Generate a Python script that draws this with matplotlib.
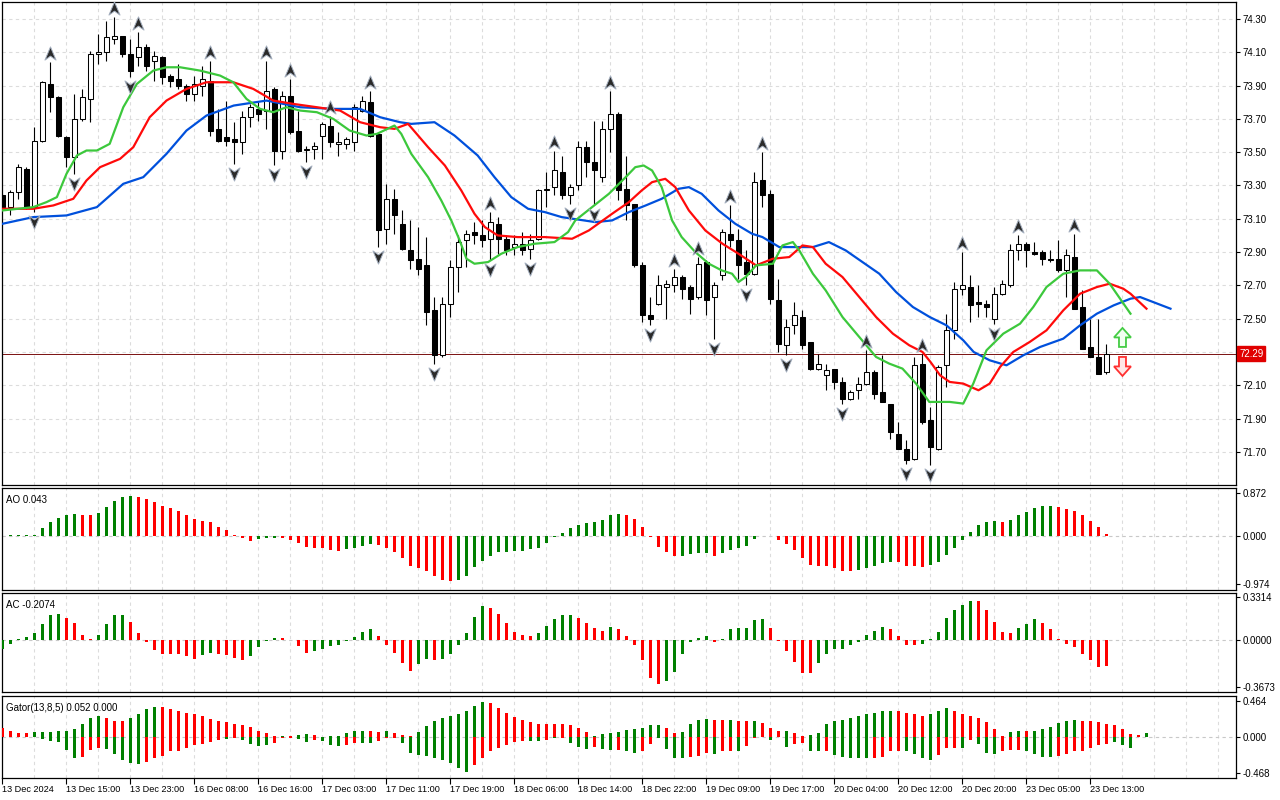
import matplotlib
matplotlib.use("Agg")
import matplotlib.pyplot as plt
import matplotlib.transforms as mtransforms
from matplotlib.path import Path
from matplotlib.patches import Polygon
import numpy as np

plt.rcParams['font.family'] = ['Liberation Sans', 'DejaVu Sans']

# ---- H1 candles ----
opens = [73.24, 73.17, 73.26, 73.40, 73.17, 73.57, 73.91, 73.83, 73.59, 73.47,
         73.70, 73.82, 74.09, 74.10, 74.18, 74.20, 74.09, 74.07, 74.13, 74.05,
         74.07, 73.96, 73.94, 73.90, 73.85, 73.90, 73.93, 73.64, 73.59, 73.58,
         73.56, 73.71, 73.76, 73.75, 73.88, 73.51, 73.84, 73.63, 73.515, 73.52,
         73.60, 73.66, 73.55, 73.55, 73.56, 73.75, 73.80, 73.61, 73.04, 73.22,
         73.07, 72.91, 72.86, 72.82, 72.55, 72.28, 72.59, 72.81, 72.97, 73.02,
         73.00, 72.98, 73.07, 72.98, 72.93, 72.95, 72.92, 72.98, 73.27, 73.29,
         73.38, 73.24, 73.30, 73.53, 73.44, 73.35, 73.64, 73.73, 73.28, 73.19,
         72.82, 72.52, 72.59, 72.69, 72.70, 72.75, 72.69, 72.63, 72.84, 72.63,
         72.76, 73.01, 72.97, 72.84, 72.77, 73.33, 73.25, 72.61, 72.34, 72.46,
         72.51, 72.36, 72.20, 72.16, 72.20, 72.12, 72.02, 72.07, 72.11, 72.18,
         72.06, 71.99, 71.81, 71.72, 71.66, 72.23, 71.89, 71.72, 72.22, 72.43,
         72.68, 72.69, 72.60, 72.59, 72.50, 72.65, 72.70, 72.91, 72.95, 72.90,
         72.90, 72.86, 72.86, 72.79, 72.87, 72.57, 72.33, 72.27, 72.18]
highs = [73.25, 73.27, 73.43, 73.41, 73.65, 73.93, 74.04, 73.84, 73.60, 73.85,
         73.88, 74.11, 74.21, 74.29, 74.31, 74.20, 74.18, 74.22, 74.15, 74.11,
         74.08, 73.97, 74.03, 73.91, 73.96, 74.02, 74.05, 73.76, 73.81, 73.68,
         73.75, 73.79, 73.80, 74.05, 73.89, 73.87, 73.94, 73.75, 73.54, 73.56,
         73.68, 73.72, 73.62, 73.59, 73.79, 73.84, 73.87, 73.62, 73.31, 73.28,
         73.15, 73.09, 73.05, 72.99, 72.63, 72.63, 72.85, 73.00, 73.03, 73.08,
         73.09, 73.14, 73.11, 73.00, 73.00, 73.02, 73.01, 73.28, 73.38, 73.51,
         73.48, 73.31, 73.57, 73.57, 73.69, 73.69, 73.87, 73.74, 73.48, 73.19,
         72.84, 72.63, 72.76, 72.73, 72.80, 72.76, 72.70, 72.87, 72.85, 72.72,
         73.04, 73.18, 73.04, 72.91, 73.38, 73.50, 73.27, 72.74, 72.50, 72.60,
         72.55, 72.36, 72.29, 72.23, 72.20, 72.15, 72.07, 72.15, 72.31, 72.19,
         72.28, 71.99, 71.88, 71.77, 72.27, 72.29, 71.97, 72.22, 72.53, 72.72,
         72.90, 72.76, 72.70, 72.61, 72.69, 72.73, 72.95, 73.00, 72.96, 72.96,
         72.91, 72.91, 72.97, 72.92, 73.01, 72.67, 72.50, 72.50, 72.35]
lows = [73.16, 73.12, 73.22, 73.16, 73.14, 73.56, 73.74, 73.59, 73.41, 73.37,
        73.69, 73.68, 74.03, 74.05, 74.15, 74.07, 73.95, 74.02, 73.99, 73.93,
        73.91, 73.89, 73.88, 73.81, 73.81, 73.84, 73.60, 73.56, 73.54, 73.43,
        73.49, 73.65, 73.69, 73.64, 73.42, 73.46, 73.61, 73.50, 73.44, 73.46,
        73.46, 73.53, 73.48, 73.52, 73.51, 73.74, 73.59, 72.93, 72.95, 73.01,
        72.91, 72.80, 72.76, 72.46, 72.23, 72.27, 72.51, 72.66, 72.81, 72.95,
        72.93, 72.85, 72.89, 72.88, 72.88, 72.88, 72.86, 72.97, 73.17, 73.24,
        73.22, 73.19, 73.27, 73.35, 73.18, 73.32, 73.50, 73.21, 73.09, 72.81,
        72.48, 72.46, 72.58, 72.50, 72.66, 72.62, 72.53, 72.62, 72.52, 72.38,
        72.73, 72.93, 72.74, 72.70, 72.76, 73.17, 72.59, 72.30, 72.28, 72.41,
        72.32, 72.19, 72.19, 72.07, 72.08, 71.99, 72.01, 72.02, 72.10, 72.02,
        72.00, 71.78, 71.72, 71.63, 71.65, 71.87, 71.62, 71.71, 72.09, 72.38,
        72.64, 72.48, 72.51, 72.51, 72.47, 72.64, 72.69, 72.85, 72.81, 72.88,
        72.82, 72.84, 72.78, 72.63, 72.56, 72.32, 72.27, 72.17, 72.17]
closes = [73.17, 73.26, 73.41, 73.17, 73.57, 73.92, 73.83, 73.60, 73.47, 73.70,
          73.83, 74.09, 74.10, 74.19, 74.20, 74.09, 73.99, 74.13, 74.02, 74.08,
          73.95, 73.93, 73.90, 73.85, 73.91, 73.94, 73.63, 73.57, 73.57, 73.56,
          73.71, 73.77, 73.73, 73.87, 73.51, 73.84, 73.62, 73.51, 73.52, 73.54,
          73.67, 73.56, 73.56, 73.58, 73.77, 73.81, 73.60, 73.03, 73.22, 73.12,
          72.92, 72.85, 72.80, 72.54, 72.28, 72.59, 72.81, 72.96, 73.01, 73.00,
          72.97, 73.08, 72.98, 72.91, 72.95, 72.91, 72.97, 73.27, 73.28, 73.39,
          73.24, 73.29, 73.53, 73.44, 73.39, 73.64, 73.73, 73.27, 73.18, 72.82,
          72.52, 72.50, 72.70, 72.71, 72.75, 72.68, 72.62, 72.83, 72.61, 72.70,
          73.02, 72.97, 72.82, 72.77, 73.32, 73.24, 72.62, 72.35, 72.45, 72.52,
          72.34, 72.20, 72.23, 72.19, 72.12, 72.02, 72.06, 72.11, 72.18, 72.05,
          72.00, 71.82, 71.72, 71.65, 72.22, 71.88, 71.73, 72.21, 72.43, 72.68,
          72.70, 72.58, 72.59, 72.57, 72.65, 72.71, 72.91, 72.95, 72.91, 72.89,
          72.86, 72.85, 72.79, 72.88, 72.56, 72.32, 72.27, 72.17, 72.29]

fractal_up = [6, 14, 17, 26, 33, 36, 41, 46, 61, 69, 76, 84, 87, 91, 95, 108, 115, 120, 127, 134]
fractal_dn = [4, 9, 16, 29, 34, 38, 47, 54, 61, 66, 71, 74, 81, 89, 93, 98, 105, 113, 116, 124]

# ---- Alligator lines (bar position, price) ----
jaw_pos = [0, 3.85, 8.0, 11.8, 15.1, 17.6, 20.5, 23.0, 25.5, 28.9, 33.0, 37.2, 41.4, 44.7,
           47.2, 49.7, 51.1, 54.0, 56.5, 59.4, 61.5, 63.6, 65.7, 67.8, 69.9, 74.1, 76.2,
           78.3, 80.4, 82.4, 84.5, 85.8, 87.4, 89.5, 91.6, 93.7, 95.0, 97.1, 99.2, 101.3,
           103.3, 105.4, 107.5, 109.6, 111.7, 113.8, 115.9, 118.0, 120.1, 121.4, 123.4,
           125.5, 127.6, 129.7, 132.6, 134.7, 136.8, 138.9, 141.0, 142.2, 146.0]
jaw_val = [73.07, 73.11, 73.12, 73.17, 73.31, 73.35, 73.49, 73.63, 73.72, 73.78, 73.81, 73.77,
           73.76, 73.76, 73.71, 73.68, 73.67, 73.68, 73.60, 73.48, 73.35, 73.23, 73.16, 73.14,
           73.11, 73.08, 73.09, 73.14, 73.18, 73.22, 73.28, 73.29, 73.25, 73.15, 73.07, 73.01,
           72.99, 72.93, 72.93, 72.93, 72.96, 72.91, 72.84, 72.77, 72.66, 72.57, 72.51, 72.46,
           72.37, 72.30, 72.25, 72.22, 72.28, 72.33, 72.38, 72.46, 72.53, 72.58, 72.62, 72.63,
           72.56]
teeth_pos = [0, 3.85, 6.35, 8.85, 10.5, 12.2, 14.7, 16.35, 18.4, 20.5, 23.0, 25.5, 28.85,
             31.35, 33.85, 36.35, 39.3, 42.2, 44.7, 47.2, 49.0, 50.7, 53.2, 55.3, 57.35, 59.0,
             60.3, 61.9, 64.4, 67.8, 71.2, 73.3, 76.2, 78.3, 79.9, 81.2, 82.85, 84.1, 85.8,
             87.85, 90.0, 92.0, 94.2, 96.3, 98.35, 100.0, 101.3, 102.9, 105.0, 107.1, 109.2,
             111.3, 113.35, 115.0, 116.0, 117.2, 118.4, 120.1, 122.0, 123.4, 124.7, 126.35,
             128.4, 130.5, 132.6, 134.7, 136.8, 138.4, 140.1, 141.0, 143.0]
teeth_val = [73.16, 73.16, 73.18, 73.22, 73.33, 73.41, 73.46, 73.53, 73.71, 73.81, 73.88,
             73.92, 73.92, 73.88, 73.81, 73.79, 73.77, 73.75, 73.68, 73.65, 73.64, 73.67,
             73.53, 73.42, 73.27, 73.13, 73.05, 73.00, 72.99, 72.99, 72.98, 73.03, 73.13,
             73.20, 73.27, 73.32, 73.34, 73.29, 73.15, 73.03, 72.95, 72.89, 72.82, 72.86,
             72.87, 72.94, 72.93, 72.83, 72.75, 72.63, 72.51, 72.41, 72.34, 72.30, 72.24,
             72.16, 72.12, 72.11, 72.07, 72.11, 72.21, 72.30, 72.36, 72.43, 72.55, 72.65,
             72.69, 72.71, 72.68, 72.65, 72.56]
lips_pos = [0, 3.85, 5.5, 6.8, 8.0, 9.3, 10.5, 11.8, 13.4, 15.1, 16.8, 18.85, 20.5, 22.2,
            24.7, 27.2, 28.85, 30.5, 32.2, 33.85, 35.5, 37.2, 39.3, 41.35, 43.4, 45.5, 46.8,
            49.0, 49.85, 51.1, 53.2, 54.85, 56.1, 57.15, 58.0, 59.0, 60.7, 62.35, 64.4, 66.5,
            69.0, 70.7, 71.6, 73.7, 75.8, 77.9, 79.1, 80.15, 81.2, 82.4, 83.7, 84.9, 86.6,
            88.3, 89.9, 91.2, 92.0, 92.9, 94.2, 96.3, 97.5, 98.8, 99.6, 101.3, 102.9, 105.0,
            107.1, 109.2, 110.85, 112.5, 114.2, 115.85, 118.4, 120.1, 121.35, 123.0, 125.1,
            127.2, 128.85, 130.5, 132.6, 134.7, 136.8, 138.4, 139.7, 141.0]
lips_val = [73.15, 73.17, 73.20, 73.23, 73.37, 73.48, 73.51, 73.51, 73.55, 73.77, 73.91,
            73.99, 74.01, 74.01, 73.99, 73.96, 73.92, 73.82, 73.76, 73.74, 73.77, 73.75,
            73.74, 73.70, 73.63, 73.60, 73.61, 73.66, 73.61, 73.49, 73.35, 73.21, 73.09,
            72.97, 72.86, 72.83, 72.84, 72.89, 72.93, 72.95, 72.96, 73.02, 73.09, 73.17,
            73.25, 73.35, 73.41, 73.42, 73.39, 73.29, 73.09, 72.99, 72.90, 72.83, 72.79,
            72.77, 72.72, 72.75, 72.82, 72.83, 72.94, 72.96, 72.91, 72.77, 72.67, 72.51,
            72.39, 72.27, 72.23, 72.20, 72.11, 72.00, 72.00, 71.99, 72.11, 72.31, 72.41,
            72.47, 72.57, 72.69, 72.77, 72.79, 72.79, 72.71, 72.62, 72.53]

# ---- Awesome Oscillator ----
ao = [-0.01, 0.01, 0.01, 0.012, 0.015, 0.15, 0.27, 0.36, 0.41, 0.45,
      0.42, 0.41, 0.47, 0.59, 0.71, 0.79, 0.81, 0.79, 0.75, 0.68,
      0.60, 0.56, 0.50, 0.41, 0.34, 0.30, 0.27, 0.18, 0.12, 0.01,
      -0.05, -0.10, -0.07, -0.05, -0.05, -0.05, -0.08, -0.14, -0.22, -0.24,
      -0.24, -0.28, -0.30, -0.27, -0.24, -0.20, -0.16, -0.18, -0.24, -0.32,
      -0.46, -0.61, -0.65, -0.71, -0.81, -0.89, -0.91, -0.89, -0.81, -0.64,
      -0.51, -0.41, -0.34, -0.32, -0.30, -0.30, -0.27, -0.24, -0.14, -0.03,
      0.05, 0.16, 0.22, 0.26, 0.28, 0.32, 0.41, 0.43, 0.41, 0.34,
      0.18, -0.03, -0.22, -0.34, -0.42, -0.41, -0.38, -0.36, -0.36, -0.41,
      -0.36, -0.28, -0.24, -0.20, -0.07, -0.01, -0.01, -0.09, -0.16, -0.28,
      -0.46, -0.59, -0.61, -0.62, -0.66, -0.71, -0.71, -0.70, -0.65, -0.61,
      -0.55, -0.53, -0.54, -0.61, -0.61, -0.63, -0.59, -0.53, -0.39, -0.24,
      -0.08, 0.08, 0.22, 0.28, 0.30, 0.28, 0.32, 0.41, 0.49, 0.57,
      0.61, 0.61, 0.59, 0.55, 0.51, 0.41, 0.30, 0.18, 0.043]
ao_colors = ("rggggggggg" "rrgggggrrr" "rrrrrrrrrr" "rrgggrrrrr" "rrrggggrrr"
             "rrrrrrrggg" "gggggggggg" "ggggggggrr" "rrrrrggggr" "ggggggrrrr"
             "rrrrrrrggg" "ggrrrrgggg" "gggggrgggg" "ggrrrrrrr")

# ---- Accelerator Oscillator ----
ac = [-0.07, -0.03, 0.005, 0.02, 0.05, 0.12, 0.19, 0.20, 0.17, 0.13,
      0.04, 0.003, 0.04, 0.12, 0.19, 0.19, 0.14, 0.05, -0.02, -0.08,
      -0.11, -0.11, -0.11, -0.13, -0.15, -0.12, -0.10, -0.11, -0.12, -0.14,
      -0.16, -0.13, -0.06, -0.01, 0.013, 0.013, -0.005, -0.05, -0.10, -0.09,
      -0.07, -0.05, -0.04, -0.01, 0.02, 0.06, 0.08, 0.03, -0.04, -0.10,
      -0.18, -0.24, -0.19, -0.15, -0.16, -0.15, -0.11, -0.04, 0.05, 0.18,
      0.26, 0.25, 0.20, 0.13, 0.06, 0.04, 0.03, 0.05, 0.11, 0.16,
      0.19, 0.19, 0.17, 0.13, 0.09, 0.07, 0.10, 0.08, 0.03, -0.04,
      -0.16, -0.30, -0.34, -0.32, -0.25, -0.11, -0.02, 0.015, 0.03, -0.02,
      0.008, 0.08, 0.09, 0.09, 0.15, 0.16, 0.09, -0.01, -0.09, -0.17,
      -0.26, -0.26, -0.18, -0.11, -0.075, -0.07, -0.04, -0.02, 0.04, 0.07,
      0.10, 0.08, 0.03, -0.04, -0.04, -0.03, 0.008, 0.06, 0.17, 0.23,
      0.27, 0.30, 0.30, 0.23, 0.14, 0.06, 0.05, 0.09, 0.12, 0.16,
      0.13, 0.08, 0.008, -0.03, -0.06, -0.11, -0.16, -0.21, -0.2074]
ac_colors = ("ggggggggrr" "rrggggrrrr" "rrrrrggrrr" "rggggrrrrg" "gggggggrrr"
             "rrggrggggg" "grrrrrrggg" "ggrrrrgrrr" "rrrggggggr" "ggggggrrrr"
             "rrgggggggg" "grrrrggggg" "ggrrrrrggg" "rrrrrrrrr")

# ---- Gator oscillator (upper / lower histograms) ----
gator_up = [0.11, 0.08, 0.05, 0.05, 0.06, 0.06, 0.06, 0.07, 0.07, 0.10,
            0.16, 0.24, 0.27, 0.24, 0.20, 0.20, 0.24, 0.30, 0.36, 0.38,
            0.38, 0.36, 0.33, 0.31, 0.29, 0.27, 0.23, 0.21, 0.19, 0.16,
            0.15, 0.13, 0.08, 0.05, 0.004, 0.01, 0.013, 0.017, 0.035, 0.02,
            0.003, 0.005, 0.013, 0.05, 0.07, 0.07, 0.07, 0.06, 0.07, 0.05,
            0.025, 0.004, 0.06, 0.14, 0.20, 0.24, 0.27, 0.29, 0.34, 0.40,
            0.45, 0.44, 0.37, 0.31, 0.25, 0.22, 0.19, 0.17, 0.16, 0.16,
            0.16, 0.15, 0.11, 0.06, 0.01, 0.035, 0.05, 0.06, 0.09, 0.10,
            0.11, 0.15, 0.15, 0.11, 0.05, 0.06, 0.16, 0.22, 0.23, 0.22,
            0.22, 0.22, 0.20, 0.20, 0.20, 0.18, 0.11, 0.07, 0.07, 0.05,
            0.013, 0.025, 0.05, 0.16, 0.20, 0.22, 0.24, 0.27, 0.29, 0.31,
            0.33, 0.33, 0.33, 0.31, 0.29, 0.27, 0.29, 0.33, 0.37, 0.34,
            0.29, 0.27, 0.24, 0.19, 0.10, 0.013, 0.06, 0.07, 0.07, 0.07,
            0.10, 0.13, 0.18, 0.20, 0.22, 0.20, 0.20, 0.19, 0.16, 0.15,
            0.10, 0.035, 0.02, 0.052]
gator_up_colors = ("rrrrgggggg" "gggrrrgggg" "rrrrrrrrrr" "rrrrrgrggr" "rgggggrrgr"
                   "rrgggggggg" "grrrrrrrrr" "rrrrgggggg" "gggrrggggr" "rgrrgrrrgr"
                   "rggggggggg" "ggrrrrgggr" "rrrrrrggrg" "gggggrrrrr" "rrrg")
gator_dn = [0.004, 0.004, 0.004, 0.004, 0.004, 0.026, 0.056, 0.07, 0.17, 0.27,
            0.26, 0.17, 0.14, 0.155, 0.22, 0.30, 0.34, 0.35, 0.32, 0.27,
            0.25, 0.19, 0.18, 0.14, 0.10, 0.09, 0.065, 0.043, 0.034, 0.013,
            0.047, 0.09, 0.116, 0.11, 0.078, 0.013, 0.013, 0.03, 0.065, 0.04,
            0.05, 0.10, 0.116, 0.10, 0.078, 0.078, 0.078, 0.05, 0.017, 0.017,
            0.078, 0.21, 0.23, 0.25, 0.28, 0.30, 0.34, 0.41, 0.45, 0.37,
            0.27, 0.19, 0.14, 0.10, 0.065, 0.05, 0.05, 0.05, 0.04, 0.01,
            0.01, 0.078, 0.13, 0.155, 0.13, 0.155, 0.17, 0.17, 0.19, 0.21,
            0.18, 0.09, 0.01, 0.155, 0.27, 0.27, 0.26, 0.25, 0.21, 0.22,
            0.19, 0.18, 0.19, 0.116, 0.013, 0.003, 0.04, 0.003, 0.13, 0.09,
            0.078, 0.19, 0.19, 0.18, 0.23, 0.26, 0.27, 0.28, 0.28, 0.28,
            0.26, 0.19, 0.19, 0.18, 0.22, 0.27, 0.30, 0.23, 0.14, 0.14,
            0.14, 0.04, 0.09, 0.21, 0.22, 0.19, 0.17, 0.17, 0.18, 0.22,
            0.26, 0.26, 0.25, 0.22, 0.19, 0.18, 0.14, 0.10, 0.09, 0.065,
            0.10, 0.14, 0.003]
gator_dn_colors = ("rggrgggggg" "rrrgggggrr" "rrrrrrrrgr" "ggggrrrggr" "gggrrggrrr"
                   "gggggggggr" "rrrrrrggrg" "rgggrggrgg" "rrggggrrrg" "rrgrrrgrgr"
                   "rggrgggggr" "rrrggggrrr" "grgggrrrgg" "ggrrrrrrrg" "ggr")

# ---- axis texts ----
price_levels = [74.30, 74.10, 73.90, 73.70, 73.50, 73.30, 73.10, 72.90, 72.70, 72.50,
                72.30, 72.10, 71.90, 71.70]
price_ticks = [74.30, 74.10, 73.90, 73.70, 73.50, 73.30, 73.10, 72.90, 72.70, 72.50,
               72.10, 71.90, 71.70]
last_price = 72.29
time_tick_bars = [0, 8, 16, 24, 32, 40, 48, 56, 64, 72, 80, 88, 96, 104, 112, 120, 128, 136]
time_labels = ["13 Dec 2024", "13 Dec 15:00", "13 Dec 23:00", "16 Dec 08:00", "16 Dec 16:00",
               "17 Dec 03:00", "17 Dec 11:00", "17 Dec 19:00", "18 Dec 06:00", "18 Dec 14:00",
               "18 Dec 22:00", "19 Dec 09:00", "19 Dec 17:00", "20 Dec 04:00", "20 Dec 12:00",
               "20 Dec 20:00", "23 Dec 05:00", "23 Dec 13:00"]
ao_ticks, ao_ticklabels = [0.872, 0.0, -0.974], ["0.872", "0.000", "-0.974"]
ac_ticks, ac_ticklabels = [0.3314, 0.0, -0.3673], ["0.3314", "0.0000", "-0.3673"]
gt_ticks, gt_ticklabels = [0.464, 0.0, -0.468], ["0.464", "0.000", "-0.468"]

GREEN, RED = "#008000", "#ff0000"
GRID = "#dcdcdc"
XLIM = (-0.06, 154.19)

fig = plt.figure(figsize=(12.8, 8), dpi=100)


def panel(top, bottom):
    return fig.add_axes([2 / 1280, 1 - bottom / 800, 1234 / 1280, (bottom - top) / 800])


ax = panel(2, 485)
ax_ao = panel(488, 590)
ax_ac = panel(593, 692)
ax_gt = panel(696, 778)

for a in (ax, ax_ao, ax_ac, ax_gt):
    a.set_xlim(*XLIM)
    for s in a.spines.values():
        s.set_linewidth(0.9)
        s.set_color("black")
    a.yaxis.tick_right()
    a.tick_params(axis="y", direction="out", length=3, width=0.8, labelsize=7, pad=2)
    a.tick_params(axis="x", bottom=False, labelbottom=False)
    for k in range(4, 155, 4):
        a.axvline(k, color=GRID, lw=0.8, ls=(0, (3, 3)), zorder=0)

# ---- main price panel ----
ax.set_ylim(71.501, 74.402)
for lv in price_levels:
    ax.axhline(lv, color=GRID, lw=0.8, ls=(0, (3, 3)), zorder=0)
ax.set_yticks(price_ticks)
ax.set_yticklabels([f"{p:.2f}" for p in price_ticks])

o, h, l, c = map(np.array, (opens, highs, lows, closes))
x = np.arange(len(c))
bull = c >= o
ax.vlines(x, l, h, color="black", lw=0.8, zorder=3)
ax.bar(x, np.maximum(np.abs(c - o), 0.003), bottom=np.minimum(o, c), width=0.62,
       color=np.where(bull, "white", "black"), edgecolor="black", linewidth=0.75, zorder=4)

ax.plot(jaw_pos, jaw_val, color="#0050dc", lw=1.6, zorder=5)
ax.plot(teeth_pos, teeth_val, color="#ff0a0a", lw=1.6, zorder=5)
ax.plot(lips_pos, lips_val, color="#3cc83c", lw=1.6, zorder=5)

# price per pixel on the main panel
ppy = (74.402 - 71.501) / 483
up_mark = Path([(0, 0.5), (0.42, -0.5), (0, -0.2), (-0.42, -0.5), (0, 0.5)],
               [Path.MOVETO, Path.LINETO, Path.LINETO, Path.LINETO, Path.CLOSEPOLY])
dn_mark = Path([(0, -0.5), (0.42, 0.5), (0, 0.2), (-0.42, 0.5), (0, -0.5)],
               [Path.MOVETO, Path.LINETO, Path.LINETO, Path.LINETO, Path.CLOSEPOLY])
ax.plot(fractal_up, h[fractal_up] + 9 * ppy, ls="none", marker=up_mark, ms=9.5,
        mfc="#2a2a2a", mec="#a4afbf", mew=0.7, zorder=6)
ax.plot(fractal_dn, l[fractal_dn] - 10 * ppy, ls="none", marker=dn_mark, ms=9.5,
        mfc="#2a2a2a", mec="#a4afbf", mew=0.7, zorder=6)

ax.axhline(last_price, color="#7a1010", lw=0.7, zorder=2)
trans = mtransforms.blended_transform_factory(ax.transAxes, ax.transData)
ax.text(1.0 + 3 / 1234, last_price, f"{last_price:.2f}", transform=trans, ha="left",
        va="center", fontsize=7, color="white", zorder=10, clip_on=False,
        bbox=dict(boxstyle="square,pad=0.22", fc="#e00000", ec="#e00000"))

# hollow signal arrows next to the last bar
sig_bar = len(c) + 1
bx = 1 / 8
up_shape = [(0, 0), (8.5, 9.5), (3.5, 9.5), (3.5, 19), (-3.5, 19), (-3.5, 9.5), (-8.5, 9.5)]
ax.add_patch(Polygon([(sig_bar + dx * bx, last_price + (25.7 - dy) * ppy) for dx, dy in up_shape],
                     closed=True, fc="#f2fff2", ec="#44cc44", lw=1.3, zorder=7))
ax.add_patch(Polygon([(sig_bar + dx * bx, last_price - (22.3 - dy) * ppy) for dx, dy in up_shape],
                     closed=True, fc="#ffe6e6", ec="#ff3030", lw=1.3, zorder=7))

# ---- AO ----
ax_ao.set_ylim(-1.10, 0.967)
ax_ao.axhline(0, color="#c8c8c8", lw=0.8, ls=(0, (3, 3)), zorder=0)
ax_ao.bar(np.arange(len(ao)), ao, width=0.45,
          color=[GREEN if ch == "g" else RED for ch in ao_colors], zorder=3)
ax_ao.set_yticks(ao_ticks)
ax_ao.set_yticklabels(ao_ticklabels)
ax_ao.text(0.003, 0.93, "AO 0.043", transform=ax_ao.transAxes, fontsize=7, va="top")

# ---- AC ----
ax_ac.set_ylim(-0.406, 0.363)
ax_ac.axhline(0, color="#c8c8c8", lw=0.8, ls=(0, (3, 3)), zorder=0)
ax_ac.bar(np.arange(len(ac)), ac, width=0.45,
          color=[GREEN if ch == "g" else RED for ch in ac_colors], zorder=3)
ax_ac.set_yticks(ac_ticks)
ax_ac.set_yticklabels(ac_ticklabels)
ax_ac.text(0.003, 0.93, "AC -0.2074", transform=ax_ac.transAxes, fontsize=7, va="top")

# ---- Gator ----
ax_gt.set_ylim(-0.533, 0.528)
ax_gt.axhline(0, color="#c8c8c8", lw=0.8, ls=(0, (3, 3)), zorder=0)
ax_gt.bar(np.arange(len(gator_up)), gator_up, width=0.45,
          color=[GREEN if ch == "g" else RED for ch in gator_up_colors], zorder=3)
ax_gt.bar(np.arange(len(gator_dn)), -np.array(gator_dn), width=0.45,
          color=[GREEN if ch == "g" else RED for ch in gator_dn_colors], zorder=3)
ax_gt.set_yticks(gt_ticks)
ax_gt.set_yticklabels(gt_ticklabels)
ax_gt.text(0.003, 0.91, "Gator(13,8,5) 0.052 0.000", transform=ax_gt.transAxes,
           fontsize=7, va="top")

ax_gt.tick_params(axis="x", bottom=True, labelbottom=True, direction="out", length=4,
                  width=0.8, labelsize=6.6, pad=1)
ax_gt.set_xticks(time_tick_bars)
ax_gt.set_xticklabels(time_labels)
for t in ax_gt.get_xticklabels():
    t.set_horizontalalignment("left")

fig.savefig("out.png", dpi=100)
